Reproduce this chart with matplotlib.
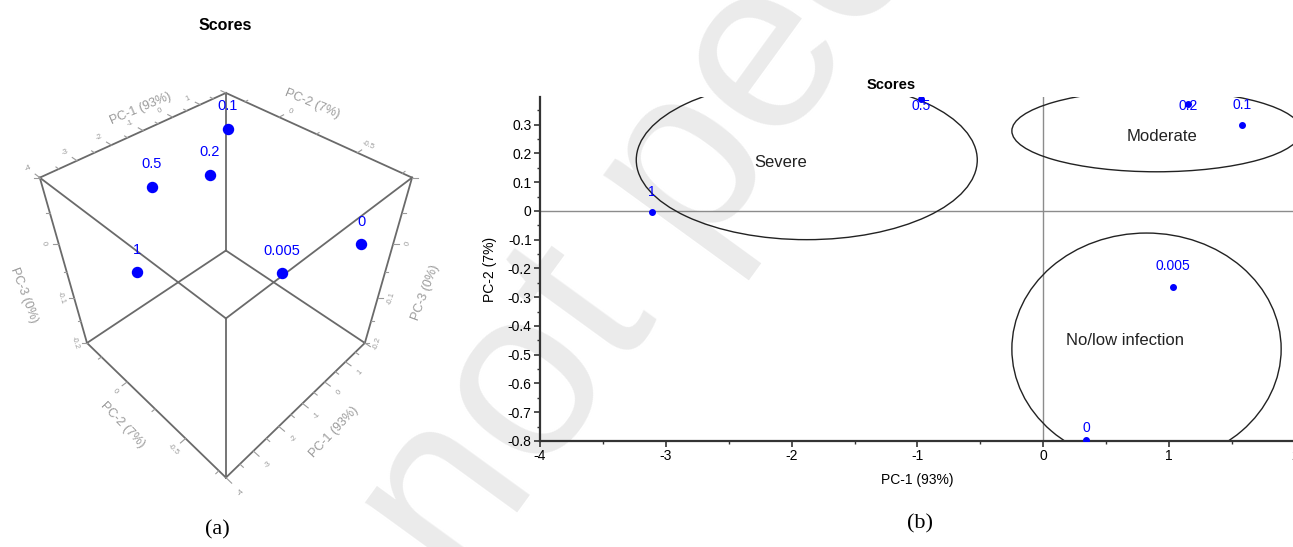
import numpy as np
import matplotlib
matplotlib.use("Agg")
import matplotlib.pyplot as plt
from matplotlib.patches import Ellipse
from matplotlib.ticker import MultipleLocator
from matplotlib.transforms import ScaledTranslation

plt.rcParams["font.family"] = ["Liberation Sans", "DejaVu Sans"]
plt.rcParams["axes.unicode_minus"] = False

# PCA scores, one entry per sample (infection level)
samples = ["1", "0.5", "0.2", "0.1", "0.005", "0"]
pc1 = [-3.11, -0.97, 1.15, 1.58, 1.03, 0.34]
pc2 = [-0.005, 0.39, 0.37, 0.30, -0.265, -0.795]
pc3 = [-0.011, 0.014, -0.014, 0.062, -0.11, 0.05]

# label offsets in panel (b), points
lab_dy = [15, -5, -1, 14, 15, 8]

# group ellipses of panel (b)
groups = ["Severe", "Moderate", "No/low infection"]
grp_cx = [-1.88, 0.90, 0.82]
grp_cy = [0.177, 0.278, -0.48]
grp_w = [2.71, 2.30, 2.14]
grp_h = [0.554, 0.284, 0.806]
grp_tx = [-2.09, 0.94, 0.65]
grp_ty = [0.17, 0.257, -0.452]

# cube limits for panel (a)
lim1 = (-4, 2)
lim2 = (-0.8, 0.4)
lim3 = (-0.2, 0.1)

GRAY = "#9a9a9a"
EDGE = "#6a6a6a"

fig = plt.figure(figsize=(12.93, 5.47), dpi=100)

# watermark behind everything
fig.text(0.5476, 0.735, "Preprint not peer reviewed", fontsize=175, color="#ebebeb",
         rotation=54, ha="center", va="center", rotation_mode="anchor", zorder=-5)

# ---------------- (a) 3D scores ----------------
ax3 = fig.add_axes([-0.005, 0.071, 0.35, 0.84], projection="3d")
ax3.patch.set_alpha(0)
ax3.set_proj_type("persp", focal_length=0.22)
ax3.view_init(elev=44, azim=-135)
ax3.set_xlim(*lim1); ax3.set_ylim(*lim2); ax3.set_zlim(*lim3)
ax3.set_box_aspect((1, 1, 1.0), zoom=0.836)
ax3.set_axis_off()
ax3.computed_zorder = False

x0, x1 = lim1; y0, y1 = lim2; z0, z1 = lim3
corners = [(x, y, z) for x in lim1 for y in lim2 for z in lim3]
for i, a in enumerate(corners):
    for b in corners[i + 1:]:
        if sum(p != q for p, q in zip(a, b)) == 1:
            ax3.plot(*zip(a, b), color=EDGE, lw=1.3, zorder=1)


def ticks3d(ax, pos, vals, out, major, fmt, labeled, rot_dir, lab_k=2.6):
    for v in vals:
        p = np.array(pos(v))
        big = abs(v / major - round(v / major)) < 1e-6
        d = np.array(out) * (1.0 if big else 0.6)
        ax.plot(*zip(p, p + d), color=GRAY, lw=0.8, zorder=1)
        if big and any(abs(v - l) < 1e-6 for l in labeled):
            q = p + np.array(out) * lab_k
            ax.text(*q, fmt(v), zdir=rot_dir, fontsize=5.5, color=GRAY,
                    ha="center", va="center")


f_int = lambda v: f"{v:.0f}"
f_dec = lambda v: "0" if abs(v) < 1e-9 else f"{v:g}"
t1 = np.arange(-4, 2.01, 0.5)
t2 = np.arange(-0.75, 0.26, 0.25)
t3 = np.arange(-0.2, 0.101, 0.05)
lab1 = [-4, -3, -2, -1, 0, 1]
ticks3d(ax3, lambda v: (v, y1, z1), t1, (0, 0.04, 0), 1, f_int, lab1, "x")
ticks3d(ax3, lambda v: (v, y0, z0), t1, (0, -0.04, 0), 1, f_int, lab1, "x")
ticks3d(ax3, lambda v: (x1, v, z1), t2, (0.18, 0, 0), 0.5, f_dec, [0, -0.5], "y", 2.6)
ticks3d(ax3, lambda v: (x0, v, z0), t2, (-0.18, 0, 0), 0.5, f_dec, [0, -0.5], "y", 2.4)
ticks3d(ax3, lambda v: (x0, y1, v), t3, (-0.1, 0.02, 0), 0.1, f_dec, [0, -0.1, -0.2], "z")
ticks3d(ax3, lambda v: (x1, y0, v), t3, (0.1, -0.02, 0), 0.1, f_dec, [0, -0.1, -0.2], "z")

kw = dict(fontsize=9, color=GRAY, ha="center", va="center")
ax3.text(-0.3, 0.6, z1, "PC-1 (93%)", zdir="x", **kw)
ax3.text(-1.1, -1.03, z0, "PC-1 (93%)", zdir="x", **kw)
ax3.text(3.23, -0.03, z1, "PC-2 (7%)", zdir="y", **kw)
ax3.text(-4.92, -0.2, z0, "PC-2 (7%)", zdir="y", **kw)
ax3.text(-5.0, 0.58, -0.09, "PC-3 (0%)", zdir="z", **kw)
ax3.text(2.95, -0.98, -0.09, "PC-3 (0%)", zdir="z", **kw)

ax3.scatter(pc1, pc2, pc3, s=52, color="blue", depthshade=False, zorder=5)
lift = ax3.transData + ScaledTranslation(0, 16 / 72, fig.dpi_scale_trans)
for s, a, b, c in zip(samples, pc1, pc2, pc3):
    t = ax3.text(a, b, c, s, fontsize=10.5, color="blue", ha="center", va="center", zorder=6)
    t.set_transform(lift)

fig.text(225 / 1293, 1 - 25 / 547, "Scores", fontsize=11.5, fontweight="bold",
         ha="center", va="center")

# ---------------- (b) 2D scores ----------------
ax = fig.add_axes([540 / 1293, 1 - 441 / 547, 755 / 1293, 344 / 547])
ax.patch.set_alpha(0)
ax.set_xlim(-4, 2)
ax.set_ylim(-0.8, 0.396)
for side in ("top", "right"):
    ax.spines[side].set_visible(False)
for side in ("left", "bottom"):
    ax.spines[side].set_linewidth(1.6)
    ax.spines[side].set_color("#333333")
ax.xaxis.set_major_locator(MultipleLocator(1))
ax.xaxis.set_minor_locator(MultipleLocator(0.5))
ax.yaxis.set_minor_locator(MultipleLocator(0.05))
yt = np.round(np.arange(-0.8, 0.31, 0.1), 1)
ax.set_yticks(yt)
ax.set_yticklabels([f_dec(v) for v in yt])
ax.tick_params(which="major", length=4, width=1.2, color="#333333", labelsize=10, pad=2)
ax.tick_params(which="minor", length=2.5, width=1.0, color="#333333")
ax.axhline(0, color="#8c8c8c", lw=1, zorder=1)
ax.axvline(0, color="#8c8c8c", lw=1, zorder=1)

for cx, cy, w, h in zip(grp_cx, grp_cy, grp_w, grp_h):
    ax.add_patch(Ellipse((cx, cy), w, h, fill=False, ec="#222222", lw=1.0, zorder=2))
for g, tx, ty in zip(groups, grp_tx, grp_ty):
    ax.text(tx, ty, g, fontsize=12, color="#222222", ha="center", va="center")

ax.scatter(pc1, pc2, s=16, color="blue", zorder=4)
for s, a, b, dy in zip(samples, pc1, pc2, lab_dy):
    ax.annotate(s, (a, b), xytext=(0, dy), textcoords="offset points", ha="center",
                va="center", fontsize=10, color="blue", zorder=5, annotation_clip=False)

ax.set_xlabel("PC-1 (93%)", fontsize=10, labelpad=7)
ax.set_ylabel("PC-2 (7%)", fontsize=10, labelpad=8)
ax.set_title("Scores", x=0.465, fontsize=10.5, fontweight="bold", pad=6)

fig.text(217 / 1293, 1 - 530 / 547, "(a)", fontsize=16, family="Liberation Serif",
         ha="center", va="center")
fig.text(920 / 1293, 1 - 524 / 547, "(b)", fontsize=16, family="Liberation Serif",
         ha="center", va="center")

fig.savefig("out.png", dpi=100)
